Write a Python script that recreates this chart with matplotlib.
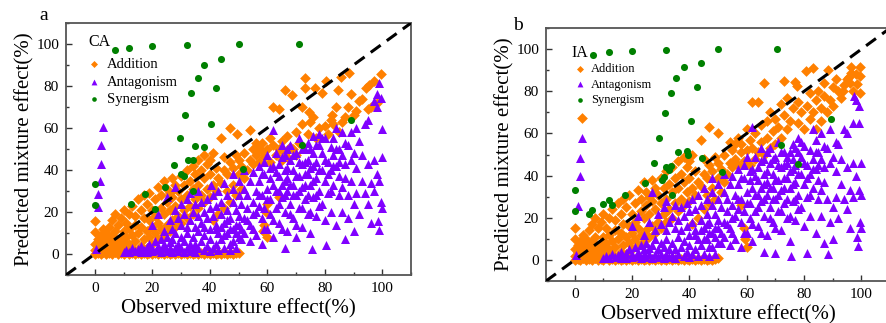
"""Observed vs predicted mixture effect, CA (a) and IA (b)."""
import matplotlib
matplotlib.use('Agg')
import matplotlib.pyplot as plt
from matplotlib.ticker import MultipleLocator
import numpy as np

plt.rcParams.update({'font.family': 'Liberation Serif', 'mathtext.fontset': 'stix'})

# ---------------- panel a (CA) ----------------
a_addition = [
    # baseline along y = 0
    (0, 0), (1, 0.5), (2, 0), (3, 1), (4, 0), (5, 0.5), (6, 0), (7, 1), (8, 0), (9, 0.5),
    (10, 0), (11, 1), (12, 0), (13, 0.5), (14, 0), (15, 0.5), (16, 0), (17, 0.5), (18, 0),
    (19, 0.5), (20, 0), (21, 0.5), (22, 0), (23, 0.5), (24, 0), (25, 0.5), (26, 0), (27, 0.5),
    (28, 0), (29, 0.5), (30, 0), (31, 0.5), (32, 0), (33, 0.5), (34, 0), (35, 0.5), (36, 0),
    (37, 0.5), (38, 0), (39, 0.5), (40, 0), (41, 0.5), (42, 0), (43, 0.5), (44, 0), (45, 0.5),
    (46, 0), (47, 0.5), (48, 0), (49, 0.5), (50, 0.5),
    # low effect cluster
    (0, 2), (0, 5), (0, 10.5), (0, 15.5), (1, 1), (1, 4), (1, 7), (2, 2.5), (2, 6), (2, 9),
    (3, 1), (3, 4), (3, 8), (3, 12), (4, 2), (4, 5.5), (4, 10), (5, 1), (5, 3.5), (5, 7),
    (5, 13), (6, 2), (6, 5), (6, 9), (6, 16), (7, 1), (7, 4), (7, 7), (7, 11), (7, 19),
    (8, 2.5), (8, 6), (8, 14), (9, 1), (9, 4), (9, 8), (9, 17), (10, 2), (10, 5.5), (10, 11),
    (10, 21), (11, 3), (11, 8), (11, 15), (12, 1.5), (12, 5), (12, 12), (12, 19), (13, 3),
    (13, 9), (13, 23), (14, 6), (14, 14), (14, 18), (15, 2), (15, 10), (15, 26), (16, 4),
    (16, 13), (16, 21), (17, 7), (17, 17), (17, 28), (18, 3), (18, 11), (18, 24),
    # band around the diagonal
    (19, 8), (19, 16), (19, 29), (20, 5), (20, 13), (20, 21), (21, 10), (21, 18), (21, 26),
    (22, 7), (22, 15), (22, 32), (23, 12), (23, 22), (23, 28), (24, 9), (24, 19), (24, 35),
    (25, 14), (25, 25), (25, 31), (26, 11), (26, 21), (26, 29), (27, 16), (27, 27), (27, 36),
    (28, 13), (28, 23), (28, 33), (29, 18), (29, 30), (30, 15), (30, 26), (30, 37), (31, 21),
    (31, 33), (32, 17), (32, 28), (32, 40), (33, 23), (33, 35), (34, 19), (34, 31), (34, 42),
    (35, 26), (35, 38), (36, 22), (36, 33), (36, 45), (37, 28), (37, 40), (38, 25), (38, 36),
    (38, 47), (39, 31), (39, 43), (40, 27), (40, 38), (40, 45), (41, 16), (41, 33), (41, 48),
    (42, 30), (42, 41), (43, 19), (43, 36), (44, 34), (44, 55), (45, 22), (45, 40), (45, 46),
    (46, 30), (46, 38), (47, 25), (47, 44), (47, 60), (48, 33), (48, 41), (49, 28), (49, 47),
    (49.5, 57), (50, 38), (50, 45), (51, 31), (51, 42), (52, 36), (52, 48), (53, 40), (54, 45),
    (54, 59), (55, 43), (55, 50), (56, 47), (56, 53), (57, 44), (57, 50), (58, 49), (58, 53),
    (59, 14), (58.5, 11), (59.5, 20), (60, 8), (59, 46), (60, 24), (60, 50), (61, 44), (61, 55),
    (62, 52), (62, 70), (63, 47), (64, 27), (64, 50), (64, 69), (65, 54), (65, 45), (66, 48),
    (66, 78), (67, 46), (67, 56), (68, 51), (68.5, 75.5), (69, 50), (70, 47), (70, 58),
    (71, 53), (72, 70), (72, 62), (73, 84), (73, 79), (74, 57), (74.5, 67.5), (75, 63),
    (76, 65), (76.5, 79), (77, 55), (78, 60), (79, 76.5), (80, 61), (80.5, 82.5), (81, 57),
    (82, 64), (82.5, 66), (83, 62), (84, 70), (84.5, 78), (85, 58), (85.5, 84.5), (86, 63),
    (87, 65), (88, 70), (88.5, 86), (89, 76), (90, 66), (91, 68), (92, 73), (93, 74),
    (94.5, 79), (95, 69), (95.5, 80.5), (96, 70), (97, 82.5), (98, 72), (99.5, 85.5),
]

a_antagonism = [
    (0.5, 2.5), (1, 22.5), (1.3, 28.5), (1.7, 35), (2, 43), (2.3, 51.7), (3, 60.5),
    # dense floor
    (10, 1), (11, 2), (12, 1), (13, 3), (14, 1.5), (15, 2.5), (16, 1), (16, 4), (17, 2),
    (18, 1), (18, 3.5), (19, 5), (20, 1.5), (20, 3), (21, 6), (22, 2), (22, 4), (23, 1),
    (23, 7), (24, 3), (24, 5), (25, 1.5), (25, 8), (26, 3), (26, 5.5), (27, 1), (27, 7),
    (28, 3), (28, 10), (29, 1.5), (29, 5), (30, 3), (30, 8), (31, 1), (31, 6), (32, 3),
    (32, 10), (33, 1.5), (33, 5), (34, 2.5), (34, 8), (35, 1), (35, 5), (36, 3), (36, 11),
    (37, 6), (38, 2), (38, 9), (39, 4), (40, 1.5), (40, 7), (41, 3), (42, 5), (42, 12),
    (43, 2), (44, 7), (45, 3), (46, 10), (47, 2), (48, 6), (49, 3), (50, 8),
    (44, 13), (46, 16), (48, 12), (50, 14), (52, 10), (53, 16), (54, 6), (55, 12), (45, 9),
    (47, 5), (49, 10), (51, 7),
    # middle
    (20, 14), (22, 19), (24, 11), (25, 27), (26, 16), (27, 12), (28, 32), (28, 21), (29, 17),
    (30, 14), (30, 24), (31, 19), (32, 13), (32, 26), (33, 16), (33, 29), (34, 20), (35, 13),
    (35, 24), (36, 18), (36, 30), (37, 15), (37, 25), (38, 20), (38, 13), (39, 26), (39, 17),
    (40, 22), (40, 12), (40.5, 33), (41, 18), (41, 28), (42, 14), (42, 23), (43, 30), (43, 10),
    (44, 19), (44, 25), (45, 15), (45, 34), (46, 21), (46, 28), (47, 12), (47, 17), (48, 25),
    (48, 31), (48, 38), (49, 14), (49, 21), (50, 28), (50, 18), (50, 35), (51, 12), (51, 24),
    (52, 31), (52, 17), (52, 40), (53, 22), (53, 28), (54, 14), (54, 35), (55, 25), (55, 19),
    (55, 39), (56, 30), (56, 9), (57, 23), (57, 35), (57, 42), (58, 17), (58, 28), (58, 5),
    (59, 38), (59, 22), (59, 44), (60, 31), (60, 12), (60, 47),
    (56, 20), (57, 28), (58, 38), (59, 12), (60, 26), (61, 41), (62, 33), (62, 16), (63, 39),
    (64, 24), (64, 30), (65, 46), (65, 12), (66, 35), (66, 28), (67, 50), (67, 41), (68, 19),
    (68, 33), (69, 47), (69, 28), (70, 37), (70, 14), (71, 44), (71, 30), (72, 50), (72, 22),
    (73, 33), (73, 44), (74, 28), (74, 38), (75, 50), (75, 20), (76, 35), (76, 42), (77, 52),
    (77, 28), (78, 40), (78, 23), (79, 55), (80, 45), (81, 38), (82, 30), (83, 42), (84, 50),
    (85, 44), (86, 32), (87, 53),
    # upper right
    (61, 26), (61, 36), (61, 19), (62, 42), (62, 59), (62, 8), (63, 30), (63, 22), (63, 48),
    (64, 37), (64, 15), (64, 43), (65, 27), (65, 52), (65, 33), (66, 40), (66, 20), (66, 3),
    (66, 47), (67, 30), (67, 11), (67, 36), (68, 45), (68, 24), (68, 52), (69, 33), (69, 17),
    (69, 40), (70, 48), (70, 28), (70, 8), (71, 37), (71, 22), (71, 55), (72, 43), (72, 32),
    (72, 13), (73, 50), (73, 26), (73, 38), (74, 45), (74, 19), (74, 53), (75, 33), (75, 10),
    (75, 41), (75.5, 2.5), (76, 48), (76, 27), (76, 56), (77, 36), (77, 18), (77, 44), (78, 52),
    (78, 30), (78, 57), (79, 40), (79, 24), (79, 48), (80, 35), (80, 55), (80, 16), (80.5, 4.5),
    (81, 44), (81, 29), (82, 51), (82, 40), (82, 20), (83, 33), (83, 47), (83, 55), (84, 42),
    (84, 14), (84, 60), (85, 37), (85, 28), (85, 50), (86, 47), (86, 20), (86, 58), (87, 36),
    (87, 7), (87, 43), (88, 52), (88, 28), (88, 17), (89, 58), (89, 45), (89, 35), (90, 48),
    (90, 24), (90, 11), (91, 60), (91, 41), (91, 29), (92, 54), (92, 19), (93, 47), (93, 35),
    (94, 62), (94, 29), (95, 64), (95, 43), (95, 24), (96, 34), (96, 15), (97, 73), (97, 45),
    (97, 30), (98, 70), (98, 38), (98, 76), (98.5, 15.5), (99, 81.5), (99, 11.5), (99, 35),
    (99.5, 74.5), (99.5, 25), (100, 59.5), (100, 46), (100, 22),
]

a_synergism = [
    (7, 97), (12, 98), (20, 99), (32, 99.5), (50, 100), (71, 100), (38, 90), (44, 93),
    (36, 84), (42, 79), (33.5, 76.5), (31.5, 66), (40.5, 62), (29.5, 55), (35, 51.5),
    (38, 51), (32.5, 45), (34, 45), (27.5, 42.5), (30, 38), (31, 37), (51.5, 40.5),
    (24.5, 32), (34, 30), (17.5, 28.5), (12.5, 24), (21, 21.5), (0, 33.5), (0, 23.5),
    (72, 52), (89, 64),
]

# ---------------- panel b (IA) ----------------
b_addition = [
    (0, 0), (1, 0.5), (2, 0), (3, 1), (4, 0), (5, 0.5), (6, 0), (7, 1), (8, 0), (9, 0.5),
    (10, 0), (11, 1), (12, 0), (13, 0.5), (14, 0), (15, 0.5), (16, 0), (17, 0.5), (18, 0),
    (19, 0.5), (20, 0), (21, 0.5), (22, 0), (23, 0.5), (24, 0), (25, 0.5), (26, 0), (27, 0.5),
    (28, 0), (29, 0.5), (30, 0), (31, 0.5), (32, 0), (33, 0.5), (34, 0), (35, 0.5), (36, 0),
    (37, 0.5), (38, 0), (39, 0.5), (40, 0), (41, 0.5), (42, 0), (43, 0.5), (44, 0), (45, 0.5),
    (46, 0), (47, 0.5), (48, 0), (49, 0.5), (50, 1),
    (2.5, 67.5), (0, 2), (0, 5), (0, 10), (0, 15), (1, 1), (1, 4), (1, 7), (2, 2.5), (2, 6),
    (2, 9), (3, 1), (3, 4), (3, 8), (3, 12), (4, 2), (4, 5.5), (4, 10), (5, 1), (5, 3.5),
    (5, 7), (5, 14), (6, 2), (6, 5), (6, 9), (6, 17), (7, 1), (7, 4), (7, 7), (7, 11),
    (7, 20), (8, 2.5), (8, 6), (8, 15), (9, 1), (9, 4), (9, 8), (9, 18), (10, 2), (10, 5.5),
    (10, 11), (10, 22), (11, 3), (11, 8), (11, 15), (12, 1.5), (12, 5), (12, 12), (12, 20),
    (13, 3), (13, 9), (13, 24), (14, 6), (14, 14), (14, 19), (15, 2), (15, 10), (15, 27),
    (16, 4), (16, 13), (16, 22), (17, 7), (17, 17), (17, 29), (18, 3), (18, 11), (18, 25),
    (19, 8), (19, 16), (19, 31), (20, 5), (20, 13), (20, 22), (21, 10), (21, 18), (21, 27),
    (22, 7), (22, 15), (22, 33), (23, 12), (23, 23), (23, 29), (24, 9), (24, 20), (24, 37),
    (25, 14), (25, 26), (25, 32), (26, 11), (26, 22), (26, 30), (27, 16), (27, 28), (27, 38),
    (28, 13), (28, 24), (28, 34), (29, 18), (29, 31), (30, 15), (30, 27), (30, 39), (31, 22),
    (31, 34), (32, 18), (32, 29), (32, 42), (33, 24), (33, 36), (34, 20), (34, 32), (34, 44),
    (35, 27), (35, 39), (36, 23), (36, 34), (36, 47), (37, 29), (37, 41), (38, 26), (38, 37),
    (38, 49), (39, 32), (39, 44), (40, 28), (40, 39), (40, 47), (41, 17), (41, 34), (41, 50),
    (42, 31), (42, 42), (43, 20), (43, 37), (44, 35), (44, 57), (45, 24), (45, 41), (45, 48),
    (46, 31), (46, 39), (47, 27), (47, 45), (47, 63), (48, 34), (48, 42), (49, 29), (49, 49),
    (50, 60), (50, 39), (50, 46), (51, 32), (51, 43), (52, 37), (52, 50), (53, 41), (54, 46),
    (54, 56), (55, 44), (55, 52), (56, 48), (56, 55), (57, 45), (57, 58), (58, 51), (58, 55),
    (59, 15), (59.5, 10), (60, 6), (58, 26), (59, 47), (60, 52), (60, 62), (61, 45), (61, 57),
    (62, 53), (62, 75), (63, 48), (63, 60), (64, 51), (64, 75), (65, 56), (65, 64), (66, 50),
    (66, 84), (67, 58), (67, 66), (68, 53), (68, 70), (69, 61), (70, 55), (70, 67), (71, 63),
    (72, 74), (72, 58), (73, 85), (73, 69), (74, 62), (74, 77), (75, 66), (76, 72), (77, 84.5),
    (77.5, 82.5), (78, 65), (78, 75), (79, 70), (80, 62), (80.5, 89.5), (81, 73), (82, 67),
    (82, 79), (83, 91), (83, 70), (84, 76), (84, 62), (85, 80), (86, 72), (86, 66), (87, 78),
    (87, 84), (88, 70), (88.5, 90), (89, 76), (90, 82), (90, 73), (91, 86), (92, 80),
    (93, 77), (93.5, 80), (94, 83), (95, 86), (95.5, 87), (96, 84), (96.5, 88.5),
    (96.5, 91.5), (97, 80), (98, 88), (98.5, 83.5), (99.5, 91.5), (99.5, 87.5), (99.5, 79),
]

b_antagonism = [
    (0.5, 2.5), (1, 25.5), (1.8, 40), (2, 48.5), (2.5, 58),
    (10, 1), (11, 2), (12, 1), (13, 3), (14, 1.5), (15, 2.5), (16, 1), (16, 4), (17, 2),
    (18, 1), (18, 3.5), (19, 5), (20, 1.5), (20, 3), (21, 6), (22, 2), (22, 4), (23, 1),
    (23, 7), (24, 3), (24, 5), (25, 1.5), (25, 8), (26, 3), (26, 5.5), (27, 1), (27, 7),
    (28, 3), (28, 10), (29, 1.5), (29, 5), (30, 3), (30, 8), (31, 1), (31, 6), (32, 3),
    (32, 10), (33, 1.5), (33, 5), (34, 2.5), (34, 8), (35, 1), (35, 5), (36, 3), (36, 11),
    (37, 6), (38, 2), (38, 9), (39, 4), (40, 1.5), (40, 7), (41, 3), (42, 5), (42, 12),
    (43, 2), (44, 7), (45, 3), (46, 10), (47, 2), (48, 6), (49, 3), (50, 8),
    (44, 14), (46, 17), (48, 13), (50, 15), (52, 11), (53, 17), (54, 7), (55, 13), (45, 10),
    (47, 6), (49, 11), (51, 8),
    (20, 16), (22, 21), (24, 12), (26, 18), (27, 32), (28, 14), (29, 22), (30, 17),
    (31, 25), (32, 14), (32, 28), (33, 18), (34, 21), (35, 15), (35, 26), (36, 19), (37, 25),
    (37, 14), (38, 21), (39, 27), (39, 16), (40, 23), (40, 12), (41, 29), (41, 18), (42, 14),
    (42, 24), (43, 31), (43, 10), (44, 19), (44, 26), (45, 15), (45, 34), (46, 22), (46, 29),
    (47, 13), (47, 18), (48, 26), (48, 32), (48, 39), (49, 15), (49, 22), (50, 29), (50, 19),
    (50, 36), (51, 13), (51, 25), (52, 32), (52, 18), (52, 41), (53, 23), (53, 29), (54, 15),
    (54, 36), (55, 26), (55, 20), (55, 40), (56, 31), (56, 10), (57, 24), (57, 36), (57, 43),
    (58, 18), (58, 29), (58, 6), (59, 39), (59, 23), (59, 45), (60, 32), (60, 13), (60, 49),
    (56, 21), (57, 29), (58, 39), (59, 13), (60, 27), (61, 42), (62, 34), (62, 17), (63, 40),
    (64, 25), (64, 31), (65, 47), (65, 13), (66, 36), (66, 29), (67, 51), (67, 42), (68, 20),
    (68, 34), (69, 48), (69, 29), (70, 38), (70, 15), (71, 45), (71, 31), (72, 51), (72, 23),
    (73, 34), (73, 45), (74, 29), (74, 39), (75, 51), (75, 21), (76, 36), (76, 43), (77, 53),
    (77, 29), (78, 41), (78, 24), (79, 56), (80, 46), (81, 39), (82, 31), (83, 43), (84, 51),
    (85, 45), (86, 33), (87, 54),
    (61, 27), (61, 38), (61, 20), (62, 43), (62, 63), (62, 9), (63, 31), (63, 23), (63, 49),
    (64, 38), (64, 16), (64, 44), (65, 28), (65, 53), (65, 34), (66, 41), (66, 21), (66, 4),
    (66, 48), (67, 31), (67, 12), (67, 37), (68, 46), (68, 25), (68, 53), (69, 34), (69, 18),
    (69, 41), (70, 49), (70, 29), (70, 3.5), (71, 38), (71, 23), (71, 56), (72, 44), (72, 33),
    (72, 14), (73, 51), (73, 27), (73, 39), (74, 46), (74, 20), (74, 49), (75, 34), (75, 9),
    (75, 42), (75.5, 2), (76, 48), (76, 28), (76, 55), (77, 37), (77, 19), (77, 45), (78, 58),
    (78, 31), (78, 51), (79, 41), (79, 25), (79, 49), (80, 36), (80, 54), (80, 16), (81, 3.5),
    (81, 45), (81, 30), (82, 52), (82, 41), (82, 21), (83, 34), (83, 48), (83, 62), (84, 43),
    (84, 13), (84, 57), (85, 38), (85, 29), (85, 51), (86, 48), (86, 21), (86, 60), (87, 37),
    (87, 8), (87, 44), (88, 53), (88, 29), (88.5, 2.7), (89, 62), (89, 46), (89, 18),
    (90, 49), (90, 25), (90, 10), (91, 56), (91, 42), (91, 30), (92, 55), (92, 20), (93, 48),
    (93, 36), (94, 62), (94, 29), (95, 60), (95, 44), (95, 24), (96, 33), (96, 15), (97, 65),
    (97, 46), (97, 30), (97.5, 78), (98, 40), (98, 76), (98.5, 11), (98.8, 6.7), (99, 73),
    (99, 65), (99, 33), (99.5, 18), (100, 46), (100, 31), (100, 15),
]

b_synergism = [
    (6.5, 97), (12, 98.5), (20, 99), (32, 99.5), (50, 100), (70.5, 100), (38, 91.5),
    (44, 93.5), (35.5, 86.5), (42.5, 82), (33.5, 79), (31.5, 69.5), (40.5, 66), (29.5, 58),
    (36, 51), (39, 51.5), (39.5, 50), (44.5, 48.5), (27.5, 46), (32, 44), (33, 42.5),
    (33.5, 44.5), (30.5, 38), (31, 39.5), (24.5, 36.5), (17.5, 31), (12, 28.5), (13, 26),
    (10, 26.5), (5, 22), (6, 23.5), (0, 33), (0, 23), (34, 31), (51.5, 41.5), (72, 54.5),
    (78, 45.5), (89.5, 67),
]

ORANGE = '#FF8000'
PURPLE = '#8000FF'
GREEN = '#008000'

fig = plt.figure(figsize=(8.86, 3.23), dpi=100)
ax_a = fig.add_axes([0.0745, 0.1486, 0.3894, 0.7802])
ax_b = fig.add_axes([0.6163, 0.1300, 0.3883, 0.7830])


def draw(ax, add, ant, syn, tag, leg_fs, tag_fs, leg_xy, tag_xy, lspace):
    add = np.array(add)
    ant = np.array(ant)
    syn = np.array(syn)
    ax.plot([-10, 110], [-10, 110], color='black', lw=2.2, dashes=(4, 2.5), zorder=4)
    ax.scatter(add[:, 0], add[:, 1], marker='D', s=30, color=ORANGE, linewidths=0,
               label='Addition', zorder=2)
    ax.scatter(ant[:, 0], ant[:, 1], marker='^', s=42, color=PURPLE, linewidths=0,
               label='Antagonism', zorder=3)
    ax.scatter(syn[:, 0], syn[:, 1], marker='o', s=26, color=GREEN, linewidths=0,
               label='Synergism', zorder=5)
    ax.set_xlim(-10, 110)
    ax.set_ylim(-10, 110)
    ax.xaxis.set_major_locator(MultipleLocator(20))
    ax.xaxis.set_minor_locator(MultipleLocator(10))
    ax.yaxis.set_major_locator(MultipleLocator(20))
    ax.yaxis.set_minor_locator(MultipleLocator(10))
    ax.tick_params(which='both', direction='in', top=False, right=False,
                   labelsize=11, color='#333333', width=1, pad=5)
    ax.tick_params(which='major', length=4)
    ax.tick_params(which='minor', length=2.5)
    for sp in ax.spines.values():
        sp.set_color('#555555')
        sp.set_linewidth(1.3)
    ax.set_xlabel('Observed mixture effect(%)', fontsize=15, labelpad=3)
    ax.set_ylabel('Predicted mixture effect(%)', fontsize=15, labelpad=1)
    ax.text(tag_xy[0], tag_xy[1], tag, transform=ax.transAxes, fontsize=tag_fs,
            ha='left', va='top')
    ax.legend(loc='upper left', bbox_to_anchor=leg_xy, frameon=False, fontsize=leg_fs,
              handlelength=0.8, handletextpad=0.5, labelspacing=lspace,
              borderpad=0, borderaxespad=0, markerscale=0.65)


draw(ax_a, a_addition, a_antagonism, a_synergism, 'CA', 10.5, 11.5,
     (0.064, 0.862), (0.066, 0.958), 0.3)
draw(ax_b, b_addition, b_antagonism, b_synergism, 'IA', 9, 11.5,
     (0.084, 0.862), (0.074, 0.935), 0.28)

fig.text(44 / 886, 1 - 15 / 323, 'a', fontsize=14, ha='center', va='center')
fig.text(518 / 886, 1 - 25 / 323, 'b', fontsize=14, ha='center', va='center')

fig.savefig('out.png', dpi=100)
